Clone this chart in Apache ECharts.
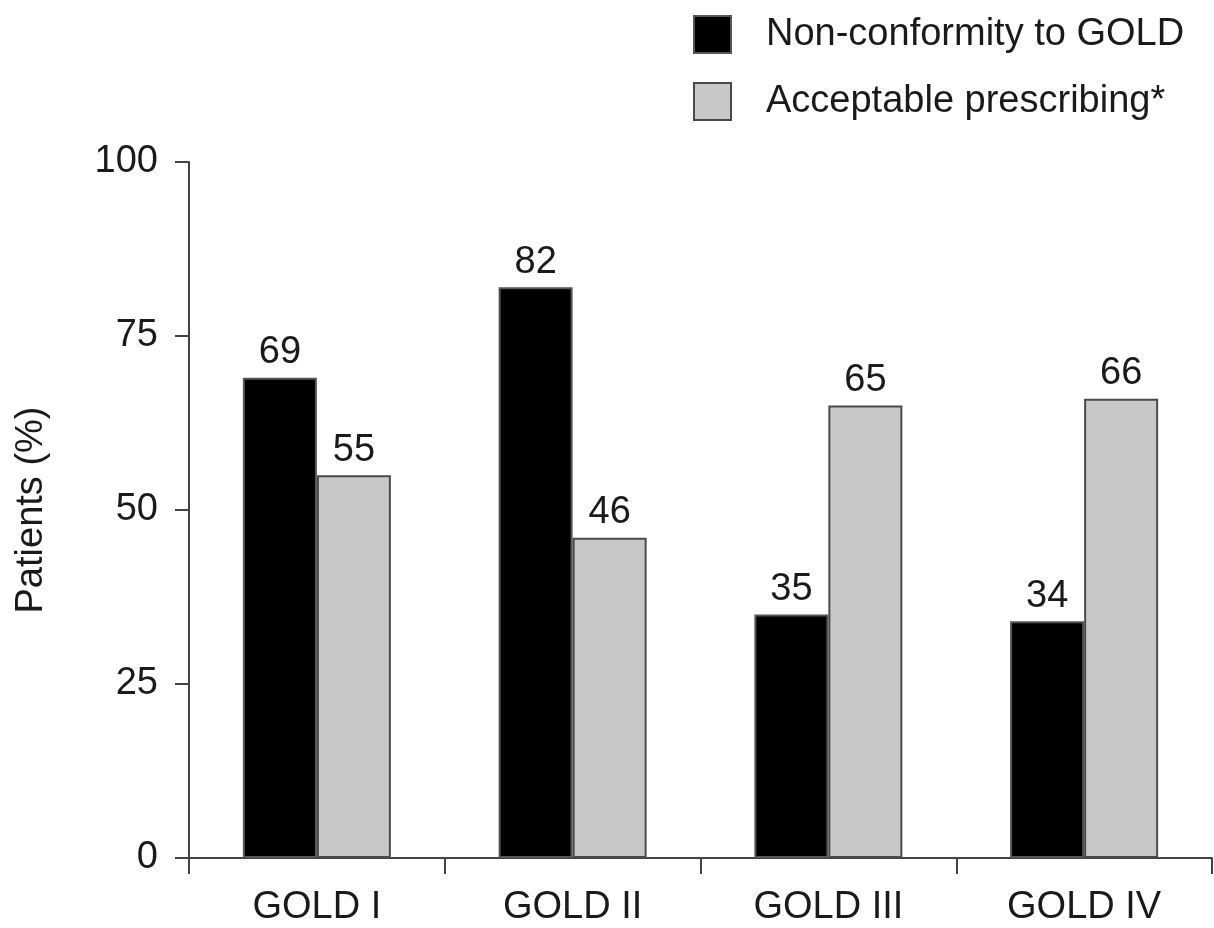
<!DOCTYPE html>
<html>
<head>
<meta charset="utf-8">
<script src="https://cdn.jsdelivr.net/npm/echarts@6/dist/echarts.min.js"></script>
<style>
  html, body { margin: 0; padding: 0; background: #fff; }
  #chart { width: 1214px; height: 928px; }
</style>
</head>
<body>
<div id="chart"></div>
<script>
// GOLD stages and prescribing shares (% of patients)
const stages = ['GOLD I', 'GOLD II', 'GOLD III', 'GOLD IV'];
const nonConformity = [69, 82, 35, 34];
const acceptable = [55, 46, 65, 66];
const yTicks = [0, 25, 50, 75, 100];

const FONT = '"Liberation Sans", Arial, Helvetica, sans-serif';
const FS = 38;
const TXT = '#1a1a1a';
const AXIS = '#444';

const chart = echarts.init(document.getElementById('chart'), null, { renderer: 'canvas' });

const labelStyle = {
  show: true,
  position: 'top',
  distance: 6,
  color: TXT,
  fontFamily: FONT,
  fontSize: FS
};

chart.setOption({
  animation: false,
  backgroundColor: '#fff',
  textStyle: { fontFamily: FONT },
  legend: {
    orient: 'vertical',
    left: 688,
    top: 10,
    itemWidth: 37,
    itemHeight: 37,
    itemGap: 28,
    icon: 'rect',
    textStyle: { fontFamily: FONT, fontSize: FS, color: TXT, padding: [0, 0, 0, 30] },
    data: ['Non-conformity to GOLD', 'Acceptable prescribing*']
  },
  grid: { left: 189, right: 2, top: 162, bottom: 70, containLabel: false },
  xAxis: {
    type: 'category',
    data: stages,
    axisLine: { lineStyle: { color: AXIS, width: 2 } },
    axisTick: { show: true, alignWithLabel: false, length: 16, lineStyle: { color: AXIS, width: 2 } },
    axisLabel: { color: TXT, fontFamily: FONT, fontSize: FS, margin: 31 },
    splitLine: { show: false }
  },
  yAxis: {
    type: 'value',
    min: yTicks[0],
    max: yTicks[yTicks.length - 1],
    interval: 25,
    name: 'Patients (%)',
    nameLocation: 'middle',
    nameRotate: 90,
    nameGap: 138,
    nameTextStyle: { color: TXT, fontFamily: FONT, fontSize: FS },
    axisLine: { show: true, lineStyle: { color: AXIS, width: 2 } },
    axisTick: { show: true, length: 14, lineStyle: { color: AXIS, width: 2 } },
    axisLabel: { color: TXT, fontFamily: FONT, fontSize: FS, margin: 31 },
    splitLine: { show: false }
  },
  series: [
    {
      name: 'Non-conformity to GOLD',
      type: 'bar',
      data: nonConformity,
      barWidth: 74,
      barGap: '0%',
      itemStyle: { color: '#000', borderColor: '#555', borderWidth: 2 },
      label: labelStyle
    },
    {
      name: 'Acceptable prescribing*',
      type: 'bar',
      data: acceptable,
      barWidth: 74,
      barGap: '0%',
      itemStyle: { color: '#c8c8c8', borderColor: '#4a4a4a', borderWidth: 2 },
      label: labelStyle
    }
  ]
});
</script>
</body>
</html>
